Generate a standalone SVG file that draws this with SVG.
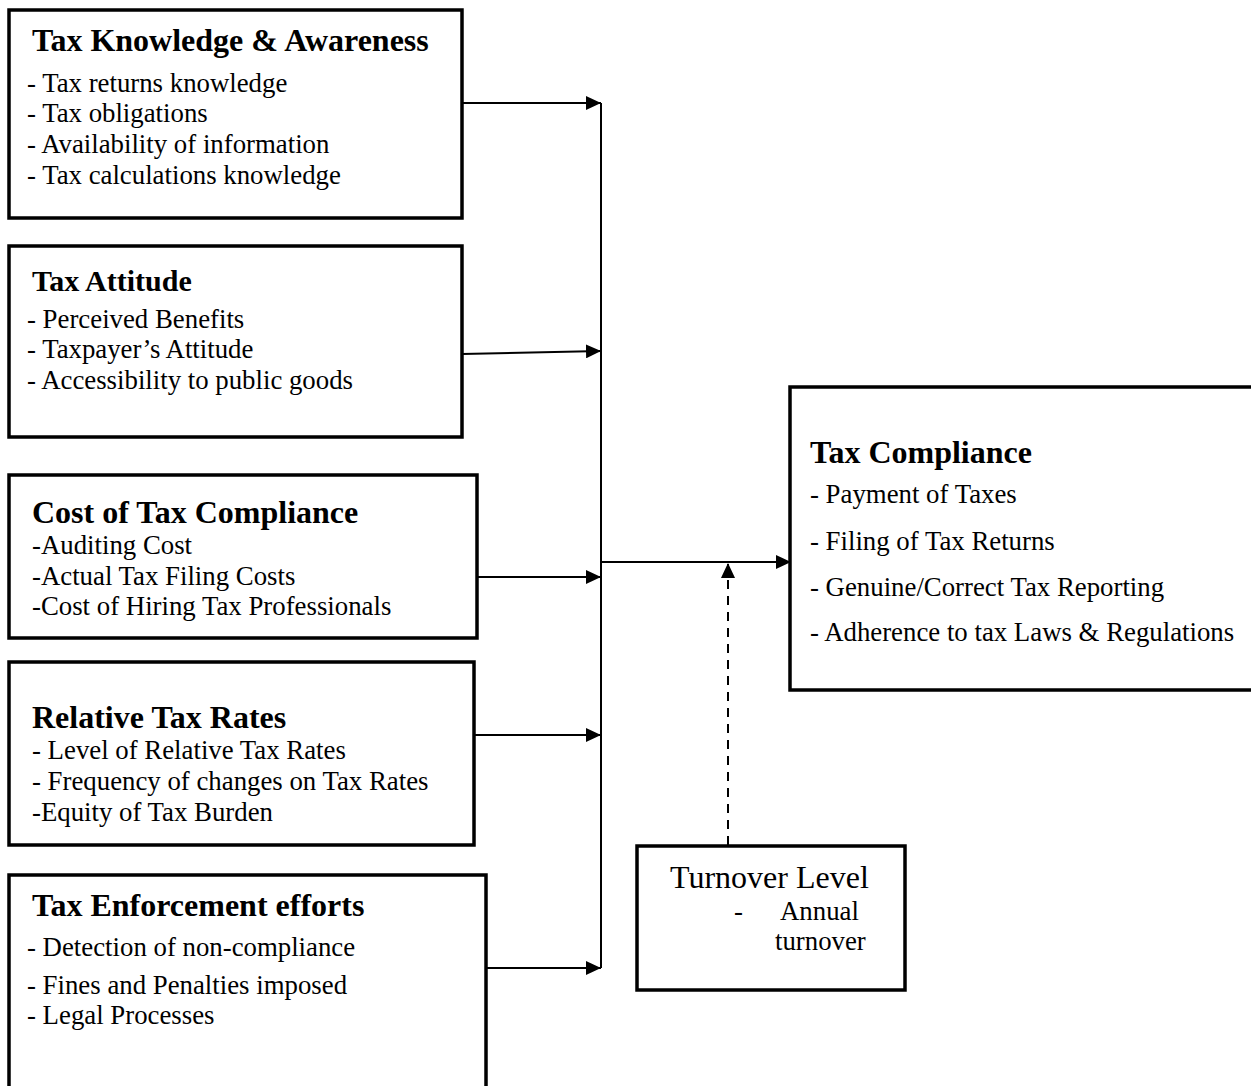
<svg xmlns="http://www.w3.org/2000/svg" width="1251" height="1086" viewBox="0 0 1251 1086">
<style>
.box{fill:#fff;stroke:#000;stroke-width:3.5}
.t{font-family:"Liberation Serif","Times New Roman",serif;font-weight:bold;font-size:32px;fill:#000}
.i{font-family:"Liberation Serif","Times New Roman",serif;font-size:26.8px;fill:#000}
.c{fill:none;stroke:#000;stroke-width:2}
.d{fill:none;stroke:#000;stroke-width:2;stroke-dasharray:9,7}
</style>
<defs>
<marker id="ah" markerUnits="userSpaceOnUse" markerWidth="16" markerHeight="14" refX="15" refY="7" orient="auto">
<path d="M0,0 L15,7 L0,14 Z" fill="#000"/>
</marker>
</defs>
<rect width="1251" height="1086" fill="#fff"/>
<g id="connectors">
<line class="c" x1="601" y1="103" x2="601" y2="968"/>
<line class="c" x1="462" y1="103" x2="601" y2="103" marker-end="url(#ah)"/>
<line class="c" x1="462" y1="354" x2="601" y2="351" marker-end="url(#ah)"/>
<line class="c" x1="477" y1="577" x2="601" y2="577" marker-end="url(#ah)"/>
<line class="c" x1="474" y1="735" x2="601" y2="735" marker-end="url(#ah)"/>
<line class="c" x1="486" y1="968" x2="601" y2="968" marker-end="url(#ah)"/>
<line class="c" x1="601" y1="562" x2="791" y2="562" marker-end="url(#ah)"/>
<line class="d" x1="728" y1="845" x2="728" y2="563" marker-end="url(#ah)"/>
</g>
<g id="n1">
<rect class="box" x="9" y="10" width="453" height="208"/>
<text class="t" x="32" y="51">Tax Knowledge &amp; Awareness</text>
<text class="i" x="27" y="92">- Tax returns knowledge</text>
<text class="i" x="27" y="122">- Tax obligations</text>
<text class="i" x="27" y="153">- Availability of information</text>
<text class="i" x="27" y="184">- Tax calculations knowledge</text>
</g>
<g id="n2">
<rect class="box" x="9" y="246" width="453" height="191"/>
<text class="t" x="32" y="291" style="font-size:30px">Tax Attitude</text>
<text class="i" x="27" y="328">- Perceived Benefits</text>
<text class="i" x="27" y="358">- Taxpayer’s Attitude</text>
<text class="i" x="27" y="389">- Accessibility to public goods</text>
</g>
<g id="n3">
<rect class="box" x="9" y="475" width="468" height="163"/>
<text class="t" x="32" y="523">Cost of Tax Compliance</text>
<text class="i" x="32" y="554">-Auditing Cost</text>
<text class="i" x="32" y="585">-Actual Tax Filing Costs</text>
<text class="i" x="32" y="615">-Cost of Hiring Tax Professionals</text>
</g>
<g id="n4">
<rect class="box" x="9" y="662" width="465" height="183"/>
<text class="t" x="32" y="728">Relative Tax Rates</text>
<text class="i" x="32" y="759">- Level of Relative Tax Rates</text>
<text class="i" x="32" y="790">- Frequency of changes on Tax Rates</text>
<text class="i" x="32" y="821">-Equity of Tax Burden</text>
</g>
<g id="n5">
<rect class="box" x="9" y="875" width="477" height="220"/>
<text class="t" x="32" y="916">Tax Enforcement efforts</text>
<text class="i" x="27" y="956">- Detection of non-compliance</text>
<text class="i" x="27" y="994">- Fines and Penalties imposed</text>
<text class="i" x="27" y="1024">- Legal Processes</text>
</g>
<g id="n6">
<rect class="box" x="790" y="387" width="480" height="303"/>
<text class="t" x="810" y="463">Tax Compliance</text>
<text class="i" x="810" y="503">- Payment of Taxes</text>
<text class="i" x="810" y="550">- Filing of Tax Returns</text>
<text class="i" x="810" y="596">- Genuine/Correct Tax Reporting</text>
<text class="i" x="810" y="641">- Adherence to tax Laws &amp; Regulations</text>
</g>
<g id="n7">
<rect class="box" x="637" y="846" width="268" height="144"/>
<text class="i" x="670" y="888" style="font-size:32px">Turnover Level</text>
<text class="i" x="734" y="920">-</text>
<text class="i" x="780" y="920">Annual</text>
<text class="i" x="775" y="950">turnover</text>
</g>
</svg>
